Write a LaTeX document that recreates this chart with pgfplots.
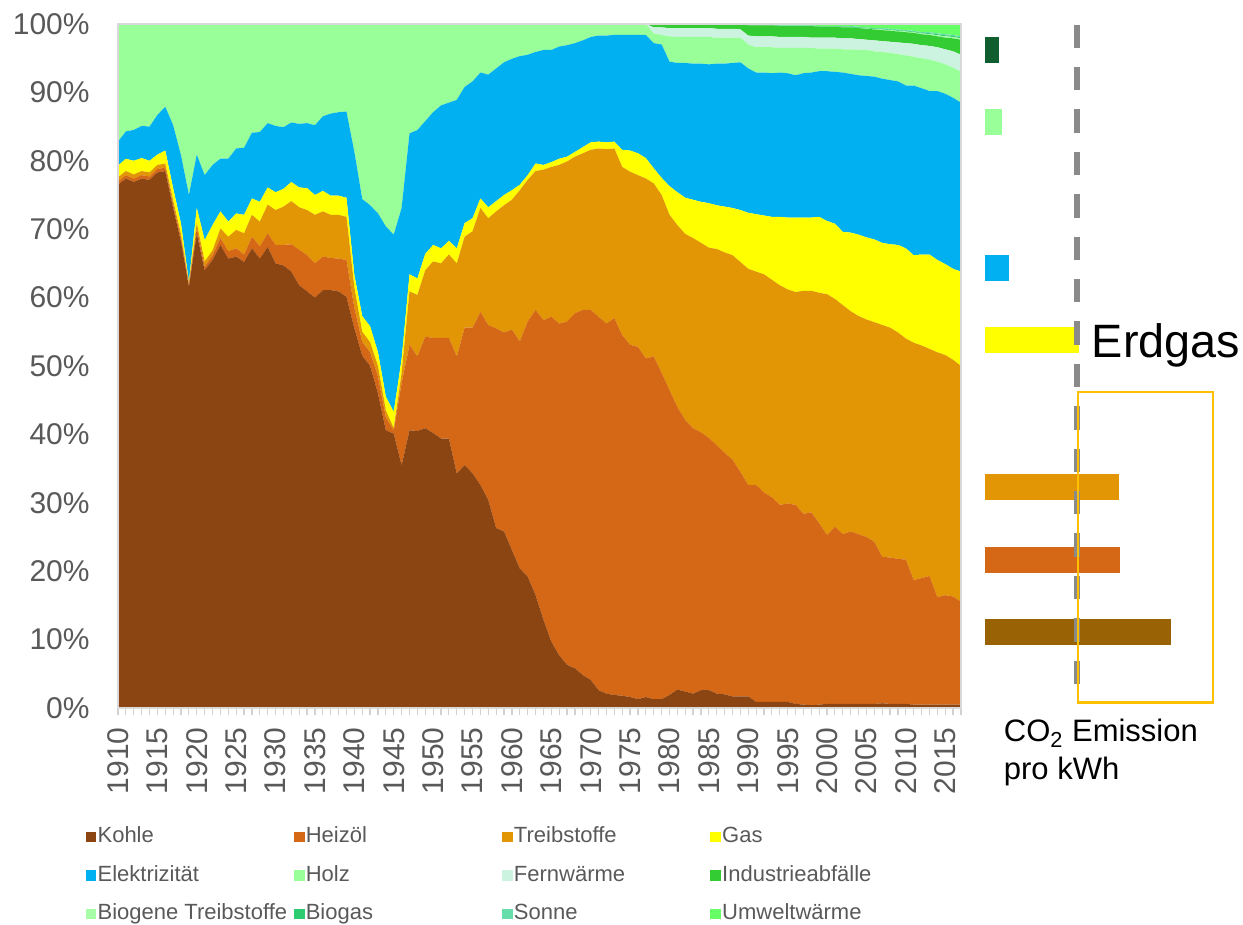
\documentclass[border=0pt]{standalone}
\usepackage{pgfplots}
\pgfplotsset{compat=1.18}
\usepackage{pgfplotstable}
\usepackage{fontspec}
\setmainfont{Liberation Sans}
\definecolor{kohle}{HTML}{8B4513}
\definecolor{heizoel}{HTML}{D56817}
\definecolor{treib}{HTML}{E29505}
\definecolor{gas}{HTML}{FFFF00}
\definecolor{elek}{HTML}{00B0F0}
\definecolor{holz}{HTML}{99FF99}
\definecolor{fern}{HTML}{CCF2E0}
\definecolor{indu}{HTML}{33CC33}
\definecolor{biotr}{HTML}{A6FFA6}
\definecolor{biogas}{HTML}{2ECC71}
\definecolor{sonne}{HTML}{66DDAA}
\definecolor{umwelt}{HTML}{66FF66}
\definecolor{darkgr}{HTML}{105E30}
\definecolor{kohlebar}{HTML}{996305}
\definecolor{boxor}{HTML}{FFC000}
\definecolor{lblgray}{HTML}{595959}
\definecolor{dashgray}{HTML}{8A8A8A}

\pgfplotstableread{
yr K H T G E Ho F I BT BG S U
1910 76.5 0.5 0.6 1.7 3.5 17.2 0 0 0 0 0 0
1911 77.4 0.5 0.6 1.8 4.0 15.7 0 0 0 0 0 0
1912 76.9 0.5 0.6 2.0 4.5 15.5 0 0 0 0 0 0
1913 77.4 0.5 0.6 1.9 4.7 14.9 0 0 0 0 0 0
1914 77.2 0.5 0.6 1.7 5.0 15.0 0 0 0 0 0 0
1915 78.3 0.5 0.6 1.5 5.8 13.3 0 0 0 0 0 0
1916 78.5 0.5 0.6 1.9 6.4 12.1 0 0 0 0 0 0
1917 73.1 0.5 0.6 1.8 9.2 14.8 0 0 0 0 0 0
1918 68.2 0.5 0.5 1.6 10.0 19.2 0 0 0 0 0 0
1919 61.6 0.3 0.2 0.2 12.7 25.0 0 0 0 0 0 0
1920 69.4 0.8 0.7 2.2 7.8 19.1 0 0 0 0 0 0
1921 64.0 0.5 0.8 3.1 9.5 22.1 0 0 0 0 0 0
1922 65.5 0.7 0.7 3.7 8.8 20.6 0 0 0 0 0 0
1923 67.7 1.0 1.4 2.5 7.7 19.7 0 0 0 0 0 0
1924 65.7 1.1 2.1 2.2 9.2 19.7 0 0 0 0 0 0
1925 66.0 1.2 2.7 2.4 9.5 18.2 0 0 0 0 0 0
1926 65.2 1.1 3.1 2.7 9.8 18.1 0 0 0 0 0 0
1927 67.2 1.7 3.2 2.4 9.6 15.9 0 0 0 0 0 0
1928 65.7 1.8 3.6 2.9 10.2 15.8 0 0 0 0 0 0
1929 67.4 2.0 4.2 2.5 9.4 14.5 0 0 0 0 0 0
1930 65.0 2.7 5.1 2.6 9.7 14.9 0 0 0 0 0 0
1931 64.7 3.0 5.6 2.6 9.0 15.1 0 0 0 0 0 0
1932 63.8 4.0 6.3 2.8 8.7 14.4 0 0 0 0 0 0
1933 61.8 5.2 6.2 2.9 9.3 14.6 0 0 0 0 0 0
1934 60.9 5.3 6.6 3.2 9.5 14.5 0 0 0 0 0 0
1935 60.0 5.0 7.1 2.9 10.2 14.8 0 0 0 0 0 0
1936 61.1 4.9 6.6 3.0 10.9 13.5 0 0 0 0 0 0
1937 61.1 4.7 6.3 2.8 12.0 13.1 0 0 0 0 0 0
1938 60.9 4.8 6.4 2.8 12.2 12.9 0 0 0 0 0 0
1939 60.1 5.4 6.3 2.8 12.6 12.8 0 0 0 0 0 0
1940 55.5 3.0 3.0 1.8 18.0 18.7 0 0 0 0 0 0
1941 51.5 2.0 1.5 2.3 17.1 25.6 0 0 0 0 0 0
1942 50.0 2.0 1.5 2.3 17.7 26.5 0 0 0 0 0 0
1943 46.0 2.5 1.5 2.0 20.3 27.7 0 0 0 0 0 0
1944 40.6 1.9 1.0 2.0 24.9 29.6 0 0 0 0 0 0
1945 40.1 0.5 0.3 2.4 25.9 30.8 0 0 0 0 0 0
1946 35.5 12.0 1.5 2.0 22.1 26.9 0 0 0 0 0 0
1947 40.6 12.5 7.8 2.5 20.6 16.0 0 0 0 0 0 0
1948 40.5 10.9 9.0 2.4 21.7 15.5 0 0 0 0 0 0
1949 40.9 13.4 9.7 2.4 19.4 14.2 0 0 0 0 0 0
1950 40.2 13.9 11.2 2.4 19.4 12.9 0 0 0 0 0 0
1951 39.4 14.7 10.9 2.2 20.9 11.9 0 0 0 0 0 0
1952 39.4 14.7 12.2 2.0 20.2 11.5 0 0 0 0 0 0
1953 34.3 17.1 13.6 2.2 21.7 11.1 0 0 0 0 0 0
1954 35.5 20.1 13.3 2.0 19.9 9.2 0 0 0 0 0 0
1955 34.3 21.3 14.1 1.9 20.0 8.4 0 0 0 0 0 0
1956 32.6 25.3 15.2 1.4 18.4 7.1 0 0 0 0 0 0
1957 30.4 25.6 15.6 1.6 19.4 7.4 0 0 0 0 0 0
1958 26.3 29.2 17.1 1.5 19.4 6.5 0 0 0 0 0 0
1959 25.8 29.1 18.6 1.5 19.4 5.6 0 0 0 0 0 0
1960 23.1 32.2 19.0 1.4 19.2 5.1 0 0 0 0 0 0
1961 20.4 33.2 22.1 0.8 18.8 4.7 0 0 0 0 0 0
1962 19.2 37.3 20.7 0.7 17.6 4.5 0 0 0 0 0 0
1963 16.5 41.7 20.3 1.1 16.3 4.1 0 0 0 0 0 0
1964 12.9 43.8 22.0 0.7 16.8 3.8 0 0 0 0 0 0
1965 9.7 47.5 21.9 0.7 16.4 3.8 0 0 0 0 0 0
1966 7.7 48.5 23.2 0.9 16.4 3.3 0 0 0 0 0 0
1967 6.3 50.2 23.4 0.7 16.3 3.1 0 0 0 0 0 0
1968 5.8 51.9 22.9 0.7 15.9 2.8 0 0 0 0 0 0
1969 4.8 53.4 22.9 0.9 15.6 2.4 0 0 0 0 0 0
1970 4.1 54.1 23.4 1.1 15.4 1.9 0 0 0 0 0 0
1971 2.6 54.6 24.6 1.0 15.5 1.7 0 0 0 0 0 0
1972 2.1 54.1 25.5 1.0 15.6 1.7 0 0 0 0 0 0
1973 1.9 55.1 24.8 1.0 15.6 1.6 0 0 0 0 0 0
1974 1.8 52.7 24.6 2.5 16.8 1.6 0 0 0 0 0 0
1975 1.6 51.5 25.3 3.1 16.9 1.6 0 0 0 0 0 0
1976 1.3 51.5 25.1 3.2 17.3 1.6 0 0 0 0 0 0
1977 1.6 49.5 26.3 3.0 18.0 1.6 0 0 0 0 0 0
1978 1.3 50.1 25.3 2.2 18.3 1.4 0.9 0.5 0 0 0 0
1979 1.3 47.7 26.0 2.5 19.5 1.4 1.1 0.5 0 0 0 0
1980 1.9 44.6 25.6 4.2 18.2 3.7 1.2 0.6 0 0 0 0
1981 2.7 41.3 26.6 4.8 18.9 3.8 1.3 0.6 0 0 0 0
1982 2.4 39.7 27.2 5.3 19.7 3.8 1.3 0.6 0 0 0 0
1983 2.1 38.8 27.8 5.6 19.9 3.9 1.3 0.6 0 0 0 0
1984 2.6 37.7 27.7 6.0 20.2 3.9 1.3 0.6 0 0 0 0
1985 2.6 36.9 27.8 6.5 20.3 4.0 1.3 0.6 0 0 0 0
1986 2.1 36.3 28.7 6.4 20.7 3.8 1.3 0.7 0 0 0 0
1987 2.0 35.3 29.3 6.7 20.9 3.8 1.3 0.7 0 0 0 0
1988 1.7 34.6 29.9 6.9 21.2 3.7 1.3 0.7 0 0 0 0
1989 1.7 32.8 30.7 7.6 21.6 3.6 1.2 0.8 0 0 0 0
1990 1.7 30.9 31.6 8.2 21.1 3.5 1.3 1.5 0 0.05 0.05 0.1
1991 0.9 31.7 31.2 8.4 20.7 3.7 1.6 1.6 0 0.05 0.05 0.1
1992 0.9 30.6 31.9 8.6 20.9 3.7 1.6 1.6 0 0.05 0.05 0.1
1993 0.9 29.9 31.8 9.2 21.0 3.8 1.6 1.6 0 0.05 0.05 0.1
1994 0.9 28.8 32.1 10.0 21.1 3.6 1.6 1.6 0 0.05 0.05 0.2
1995 0.9 29.0 31.3 10.5 21.1 3.7 1.6 1.6 0 0.05 0.05 0.2
1996 0.6 29.1 31.1 10.9 20.8 4.0 1.6 1.6 0 0.05 0.05 0.2
1997 0.5 27.9 32.6 10.7 21.1 3.7 1.6 1.6 0 0.05 0.05 0.2
1998 0.4 28.2 32.4 10.7 21.2 3.6 1.5 1.7 0 0.05 0.05 0.2
1999 0.5 26.5 33.7 11.1 21.3 3.3 1.6 1.6 0 0.05 0.05 0.3
2000 0.6 24.7 35.2 10.7 21.9 3.3 1.6 1.6 0 0.05 0.05 0.3
2001 0.6 25.9 33.3 11.0 22.2 3.4 1.6 1.6 0 0.05 0.05 0.3
2002 0.6 24.8 33.5 10.7 23.3 3.4 1.6 1.6 0 0.1 0.1 0.3
2003 0.6 25.2 32.2 11.5 23.2 3.6 1.6 1.6 0 0.1 0.1 0.3
2004 0.6 24.8 31.9 11.9 23.3 3.7 1.6 1.6 0 0.1 0.1 0.4
2005 0.6 24.4 31.8 12.0 23.6 3.8 1.5 1.6 0.05 0.1 0.05 0.5
2006 0.6 23.7 32.1 12.1 23.8 3.7 1.6 1.6 0.05 0.1 0.05 0.6
2007 0.7 21.4 33.9 12.0 24.0 3.9 1.6 1.6 0.1 0.1 0.1 0.6
2008 0.6 21.4 33.6 12.2 24.0 4.0 1.6 1.6 0.1 0.1 0.1 0.7
2009 0.6 21.2 33.1 12.8 23.9 4.0 1.7 1.6 0.1 0.1 0.1 0.8
2010 0.6 21.1 32.3 13.2 23.8 4.4 1.8 1.6 0.1 0.1 0.1 0.9
2011 0.5 18.2 34.7 12.8 24.8 4.2 1.9 1.6 0.1 0.1 0.1 1.0
2012 0.5 18.5 34.0 13.3 24.3 4.4 1.9 1.6 0.1 0.1 0.1 1.2
2013 0.5 18.8 33.2 13.8 23.9 4.6 2.0 1.6 0.15 0.1 0.15 1.2
2014 0.5 15.7 35.8 13.5 24.7 4.3 2.1 1.6 0.15 0.15 0.15 1.35
2015 0.5 16.0 35.1 13.3 24.9 4.3 2.2 1.7 0.2 0.15 0.15 1.5
2016 0.5 15.8 34.6 13.3 25.0 4.4 2.4 1.9 0.2 0.15 0.15 1.6
2017 0.5 15.0 34.5 13.8 24.7 4.5 2.5 2.2 0.2 0.15 0.15 1.8
}\mix

\begin{document}
\begin{tikzpicture}
\path[use as bounding box] (0,0) rectangle (621.5bp,462.5bp);
\begin{axis}[
  at={(59bp,108.5bp)}, anchor=south west,
  width=421.5bp, height=342bp, scale only axis,
  xmin=1910, xmax=2017, ymin=0, ymax=100,
  stack plots=y, area style,
  axis line style={draw=black!15, line width=0.7bp},
  axis on top,
  /pgf/number format/assume math mode=true,
  ytick={0,10,...,100},
  yticklabel={\pgfmathprintnumber{\tick}\%},
  ytick style={draw=none},
  yticklabel style={font=\fontsize{15bp}{18bp}\selectfont, text=lblgray, inner sep=0pt, xshift=-10.5bp},
  xtick={1910,1915,...,2015},
  minor xtick={1910,...,2017},
  xtick pos=left, ytick pos=left,
  tick align=outside,
  major tick length=3.5bp, minor tick length=3.5bp,
  xtick style={draw=black!18, line width=0.6bp},
  minor tick style={draw=black!18, line width=0.6bp},
  xticklabel style={rotate=90, anchor=east, font=\fontsize{15bp}{18bp}\selectfont, text=lblgray, inner sep=0pt, /pgf/number format/1000 sep={}},
  xticklabel shift=6bp,
  legend columns=4,
  legend cell align=left,
  legend style={at={(-0.046,-0.165)}, anchor=north west, draw=none, fill=none,
    font=\fontsize{11bp}{13bp}\selectfont, text=lblgray,
    nodes={inner sep=0.6bp, text height=8bp, text depth=2.5bp},
    /tikz/row sep=7.6bp},
  legend image code/.code={\fill[#1] (0bp,-2.6bp) rectangle (5.4bp,2.6bp);},
]
\addplot[fill=kohle, draw=none] table[x=yr,y=K]{\mix} \closedcycle;
\addlegendentry{\makebox[97.5bp][l]{Kohle}}
\addplot[fill=heizoel, draw=none] table[x=yr,y=H]{\mix} \closedcycle;
\addlegendentry{\makebox[97.5bp][l]{Heizöl}}
\addplot[fill=treib, draw=none] table[x=yr,y=T]{\mix} \closedcycle;
\addlegendentry{\makebox[97.5bp][l]{Treibstoffe}}
\addplot[fill=gas, draw=none] table[x=yr,y=G]{\mix} \closedcycle;
\addlegendentry{\makebox[97.5bp][l]{Gas}}
\addplot[fill=elek, draw=none] table[x=yr,y=E]{\mix} \closedcycle;
\addlegendentry{\makebox[97.5bp][l]{Elektrizität}}
\addplot[fill=holz, draw=none] table[x=yr,y=Ho]{\mix} \closedcycle;
\addlegendentry{\makebox[97.5bp][l]{Holz}}
\addplot[fill=fern, draw=none] table[x=yr,y=F]{\mix} \closedcycle;
\addlegendentry{\makebox[97.5bp][l]{Fernwärme}}
\addplot[fill=indu, draw=none] table[x=yr,y=I]{\mix} \closedcycle;
\addlegendentry{\makebox[97.5bp][l]{Industrieabfälle}}
\addplot[fill=biotr, draw=none] table[x=yr,y=BT]{\mix} \closedcycle;
\addlegendentry{\makebox[97.5bp][l]{Biogene Treibstoffe}}
\addplot[fill=biogas, draw=none] table[x=yr,y=BG]{\mix} \closedcycle;
\addlegendentry{\makebox[97.5bp][l]{Biogas}}
\addplot[fill=sonne, draw=none] table[x=yr,y=S]{\mix} \closedcycle;
\addlegendentry{\makebox[97.5bp][l]{Sonne}}
\addplot[fill=umwelt, draw=none] table[x=yr,y=U]{\mix} \closedcycle;
\addlegendentry{\makebox[97.5bp][l]{Umweltwärme}}
\end{axis}

\begin{axis}[
  at={(492.5bp,108.5bp)}, anchor=south west,
  width=115bp, height=342bp, scale only axis,
  xmin=0, xmax=230, ymin=0, ymax=100,
  hide axis, clip=false,
  xbar, bar width=3.8, bar shift=0pt,
]
\addplot[fill=darkgr, draw=none] coordinates {(14,96.2)};
\addplot[fill=holz, draw=none] coordinates {(17,85.7)};
\addplot[fill=elek, draw=none] coordinates {(24,64.3)};
\addplot[fill=gas, draw=none] coordinates {(94,53.8)};
\addplot[fill=treib, draw=none] coordinates {(134,32.3)};
\addplot[fill=heizoel, draw=none] coordinates {(135,21.6)};
\addplot[fill=kohlebar, draw=none] coordinates {(186,11.1)};
\draw[dashgray, line width=3bp, dash pattern=on 11.7bp off 9.5bp] (axis cs:91.7,99.9) -- (axis cs:91.7,3.4);
\draw[boxor, line width=1.1bp] (axis cs:92.7,46.2) rectangle (axis cs:228.3,0.8);
\node[anchor=base west, inner sep=0pt, font=\fontsize{23.4bp}{28bp}\selectfont] at (axis cs:106.5,51.3) {Erdgas};
\node[anchor=base west, inner sep=0pt, align=left, font=\fontsize{15.5bp}{19bp}\selectfont] at (axis cs:18.5,-10.5) {CO\textsubscript{2} Emission\\pro kWh};
\end{axis}
\end{tikzpicture}
\end{document}
